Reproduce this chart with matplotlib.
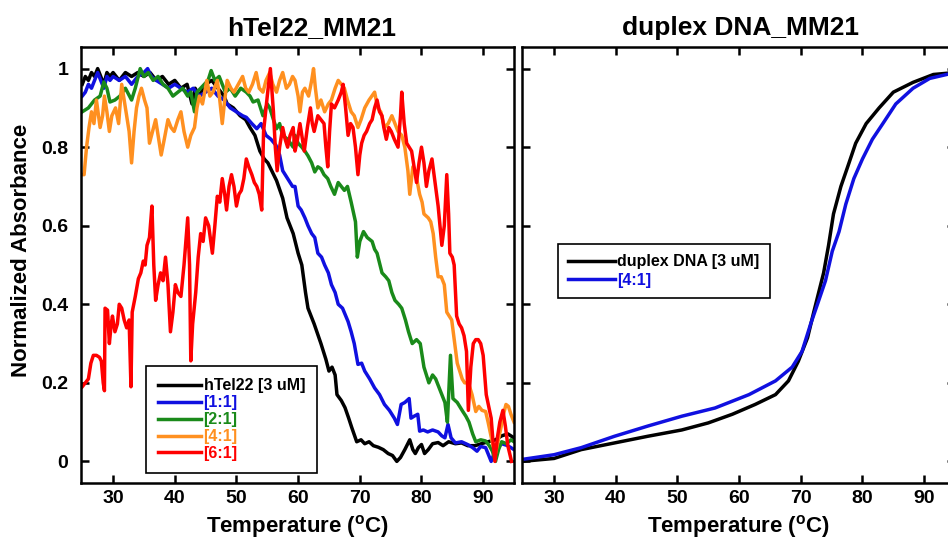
import matplotlib
matplotlib.use('Agg')
import matplotlib.pyplot as plt

plt.rcParams['font.family'] = ['Liberation Sans', 'DejaVu Sans']
plt.rcParams['font.weight'] = 'bold'
plt.rcParams['mathtext.fontset'] = 'custom'
plt.rcParams['mathtext.rm'] = 'Liberation Sans:bold'
plt.rcParams['mathtext.bf'] = 'Liberation Sans:bold'

# ---- hTel22_MM21 ----
htel_t = [25, 25.5, 26, 26.5, 27, 27.5, 28, 28.5, 29, 29.5, 30, 31, 32, 33, 34, 35, 36, 37, 38, 39,
          40, 41, 42, 42.8, 43.3, 44, 45, 46, 47, 48, 48.5, 49.5, 50.6, 51.5, 52.2, 53, 53.8, 54.5,
          55.1, 56.5, 57.5, 58.2, 59.2, 60, 60.6, 61.2, 61.6, 62.6, 63.7, 64.5, 65, 65.5, 66, 66.3,
          67, 67.6, 68.2, 68.7, 69.5, 70.2, 70.8, 71.5, 72.2, 73, 73.8, 74.6, 75.3, 76, 76.6, 77.3,
          78.1, 78.6, 79, 79.5, 80, 80.5, 81.1, 81.8, 82.7, 83.5, 84.4, 85.5, 86.5, 87.5, 88.7, 89.7,
          90.8, 92, 93, 94, 95]
htel_v = [0.96, 0.98, 0.97, 0.99, 0.98, 1.0, 0.98, 0.96, 0.99, 0.98, 0.99, 0.97, 0.99, 0.98, 0.99,
          0.98, 0.99, 0.97, 0.98, 0.96, 0.97, 0.95, 0.96, 0.91, 0.95, 0.93, 0.96, 0.97, 0.95, 0.93,
          0.91, 0.90, 0.88, 0.87, 0.85, 0.83, 0.79, 0.77, 0.76, 0.715, 0.67, 0.62, 0.58, 0.53, 0.50,
          0.43, 0.39, 0.35, 0.30, 0.26, 0.23, 0.24, 0.22, 0.17, 0.155, 0.137, 0.11, 0.086, 0.05,
          0.055, 0.045, 0.05, 0.04, 0.036, 0.03, 0.02, 0.015, 0.0, 0.01, 0.03, 0.055, 0.03, 0.02,
          0.035, 0.043, 0.02, 0.03, 0.045, 0.048, 0.04, 0.05, 0.045, 0.047, 0.04, 0.04, 0.045, 0.05,
          0.055, 0.065, 0.07, 0.06]

r11_t = [25, 25.5, 26, 26.5, 27, 27.5, 28, 28.5, 29, 29.5, 30, 31, 32, 33, 34, 35, 35.6, 36.2, 37,
         38, 39, 40, 41, 42, 43, 44, 45, 46, 47, 48, 49, 50, 51, 51.6, 52.5, 53.3, 54, 54.8, 55.6,
         56.4, 57, 57.5, 58.3, 59.1, 59.5, 60, 60.5, 61.1, 61.6, 62.2, 62.7, 63.2, 63.8, 64.3, 64.9,
         65.4, 66, 66.5, 67.2, 68.1, 68.6, 69.1, 69.7, 70.3, 70.8, 71.6, 72.4, 73.2, 74, 74.8, 75.6,
         76.1, 76.7, 77.3, 78, 78.3, 78.8, 79.4, 79.7, 80.3, 81, 81.8, 82.7, 83.3, 83.8, 84.3, 84.8,
         85.5, 86.5, 87.6, 88.3, 89, 89.6, 90.4, 91.3, 92, 93, 94, 95]
r11_v = [0.93, 0.94, 0.96, 0.95, 0.97, 0.99, 0.97, 0.95, 0.98, 0.97, 0.98, 0.97, 0.98, 0.96, 0.98,
         0.99, 1.0, 0.98, 0.97, 0.96, 0.95, 0.96, 0.95, 0.94, 0.95, 0.93, 0.94, 0.95, 0.93, 0.92,
         0.90, 0.89, 0.88, 0.876, 0.86, 0.847, 0.86, 0.83, 0.82, 0.805, 0.78, 0.74, 0.72, 0.70,
         0.70, 0.65, 0.64, 0.62, 0.60, 0.58, 0.57, 0.53, 0.52, 0.50, 0.48, 0.45, 0.43, 0.40, 0.39,
         0.356, 0.33, 0.30, 0.247, 0.25, 0.23, 0.21, 0.187, 0.17, 0.145, 0.13, 0.11, 0.094, 0.145,
         0.15, 0.16, 0.11, 0.115, 0.12, 0.077, 0.08, 0.075, 0.08, 0.075, 0.065, 0.06, 0.094, 0.06,
         0.047, 0.05, 0.042, 0.035, 0.026, 0.038, 0.035, 0.0, 0.03, 0.045, 0.04, 0.03]

r21_t = [25, 26, 27, 27.9, 28.5, 29, 29.5, 30.3, 31.1, 32, 33, 33.6, 34.4, 35, 35.7, 36.5, 37.3,
         38.1, 38.9, 39.7, 40.5, 41.3, 42.1, 42.6, 43.2, 43.6, 44.2, 44.8, 45.4, 45.9, 46.5, 47.2,
         48.2, 49, 49.8, 50.7, 51.6, 52.2, 52.7, 53.5, 54.3, 55, 55.4, 56, 56.5, 57, 57.5, 58.3,
         59.2, 59.5, 60, 60.6, 61.1, 61.6, 62.2, 62.7, 63.2, 63.7, 64.2, 64.8, 65.3, 65.9, 66.5,
         67, 67.5, 68, 68.6, 69.3, 69.6, 70, 70.6, 71.2, 72, 72.4, 72.8, 73.6, 74.2, 74.7, 75.2,
         75.7, 76.3, 76.8, 77.4, 77.9, 78.5, 79.2, 79.8, 80.4, 81.2, 81.8, 82.3, 82.8, 83.3, 83.8,
         84.2, 84.7, 85.1, 85.8, 86.7, 87.2, 87.7, 88.3, 88.8, 89.6, 90.4, 91, 91.5, 92, 92.5, 93,
         93.8, 94.5, 95]
r21_v = [0.89, 0.90, 0.92, 0.93, 0.966, 0.95, 0.915, 0.92, 0.93, 0.95, 0.92, 0.95, 1.0, 0.98,
         0.99, 0.97, 0.98, 0.96, 0.95, 0.93, 0.94, 0.95, 0.93, 0.94, 0.89, 0.94, 0.95, 0.96, 0.97,
         0.995, 0.97, 0.98, 0.94, 0.95, 0.93, 0.95, 0.94, 0.93, 0.915, 0.92, 0.88, 0.91, 0.90,
         0.87, 0.847, 0.86, 0.83, 0.82, 0.80, 0.83, 0.81, 0.80, 0.79, 0.778, 0.76, 0.737, 0.75,
         0.745, 0.73, 0.72, 0.70, 0.68, 0.71, 0.70, 0.69, 0.70, 0.66, 0.61, 0.52, 0.56, 0.585,
         0.57, 0.56, 0.54, 0.53, 0.48, 0.47, 0.46, 0.43, 0.41, 0.40, 0.39, 0.36, 0.33, 0.30, 0.31,
         0.30, 0.24, 0.20, 0.22, 0.21, 0.19, 0.17, 0.15, 0.10, 0.27, 0.16, 0.15, 0.127, 0.115,
         0.10, 0.07, 0.05, 0.055, 0.052, 0.04, 0.026, 0.0, 0.03, 0.05, 0.045, 0.055, 0.05]

r41_t = [25, 25.3, 25.7, 26.1, 26.5, 26.9, 27.3, 27.9, 28.3, 28.6, 29, 29.4, 29.8, 30.4, 30.9,
         31.4, 31.8, 32.2, 32.6, 33, 33.4, 33.8, 34.2, 34.6, 35.1, 35.5, 35.9, 36.4, 36.9, 37.4,
         37.8, 38.3, 38.9, 39.4, 39.9, 40.5, 41, 41.5, 42.1, 42.6, 43.2, 43.6, 44, 44.5, 45.2,
         45.7, 46.2, 46.9, 47.3, 47.7, 48.1, 48.5, 49.1, 49.6, 50.3, 51, 51.5, 52, 52.6, 53.2,
         53.7, 54.3, 54.8, 55.4, 55.9, 56.5, 57, 57.5, 58.1, 58.6, 59.1, 59.5, 60, 60.3, 60.7,
         61.1, 61.7, 62.2, 62.5, 62.8, 63.2, 63.7, 64.3, 64.9, 65.4, 66, 66.5, 67, 67.5, 68, 68.6,
         69.1, 69.7, 70.2, 70.8, 71.5, 72.4, 72.9, 73.4, 74, 74.6, 75.2, 75.7, 76.2, 76.8, 77.3,
         77.8, 78.1, 78.6, 79.1, 79.7, 80.1, 80.4, 81.1, 81.5, 81.9, 82.3, 82.7, 83.2, 83.7, 84.1,
         84.5, 84.9, 85.4, 85.8, 86.2, 86.6, 87, 87.6, 88.2, 88.8, 89.3, 89.8, 90.4, 90.8, 91.2,
         91.6, 92, 92.4, 92.9, 93.3, 93.7, 94.1, 94.5, 95]
r41_v = [0.73, 0.73, 0.80, 0.85, 0.89, 0.86, 0.92, 0.85, 0.88, 0.93, 0.89, 0.84, 0.88, 0.90, 0.86,
         0.96, 0.92, 0.88, 0.84, 0.76, 0.84, 0.90, 0.93, 0.95, 0.92, 0.90, 0.81, 0.84, 0.87, 0.82,
         0.78, 0.82, 0.87, 0.85, 0.84, 0.87, 0.89, 0.84, 0.80, 0.83, 0.85, 0.90, 0.93, 0.91, 0.97,
         0.93, 0.94, 0.97, 0.92, 0.86, 0.92, 0.97, 0.95, 0.94, 0.96, 0.98, 0.95, 0.94, 0.96, 0.99,
         0.95, 0.94, 0.97, 0.99, 0.96, 0.94, 0.97, 0.99, 0.95, 0.96, 0.98, 0.97, 0.93, 0.89, 0.94,
         0.95, 0.93, 0.97, 1.0, 0.95, 0.90, 0.92, 0.89, 0.91, 0.92, 0.95, 0.97, 0.96, 0.95, 0.92,
         0.89, 0.88, 0.85, 0.87, 0.90, 0.92, 0.94, 0.90, 0.89, 0.85, 0.86, 0.88, 0.86, 0.84, 0.83,
         0.80, 0.74, 0.68, 0.75, 0.73, 0.68, 0.66, 0.63, 0.62, 0.61, 0.58, 0.52, 0.47, 0.47, 0.45,
         0.38, 0.37, 0.36, 0.30, 0.25, 0.23, 0.21, 0.20, 0.20, 0.17, 0.127, 0.14, 0.13, 0.127,
         0.10, 0.07, 0.04, 0.02, 0.05, 0.087, 0.12, 0.145, 0.14, 0.12, 0.10]

r61_t = [25, 25.5, 26, 26.4, 26.8, 27.3, 27.8, 28.1, 28.4, 28.6, 28.7, 29.1, 29.4, 29.7, 29.9,
         30.3, 30.7, 31, 31.4, 31.8, 32.2, 32.6, 32.9, 33.1, 33.6, 34.1, 34.5, 34.9, 35.2, 35.5,
         35.9, 36.3, 36.6, 36.9, 37.3, 37.7, 38.1, 38.5, 38.9, 39.3, 39.7, 40.1, 40.5, 41, 41.5,
         42.1, 42.4, 42.6, 42.9, 43.4, 43.8, 44.2, 44.6, 45, 45.5, 46.1, 46.5, 46.9, 47.3, 47.7,
         48.1, 48.4, 48.8, 49.2, 49.6, 50, 50.4, 50.8, 51.2, 51.6, 52, 52.5, 52.9, 53.3, 53.7,
         54.1, 54.4, 55, 55.5, 56, 56.3, 56.6, 57, 57.5, 57.9, 58.3, 58.7, 59.2, 59.5, 59.9, 60.3,
         60.7, 61, 61.5, 62, 62.3, 62.6, 63.2, 63.7, 64.2, 64.5, 64.8, 65.1, 65.4, 65.9, 66.5, 67,
         67.3, 67.7, 68.1, 68.5, 68.9, 69.3, 69.7, 70, 70.3, 70.7, 71.1, 71.6, 72, 72.4, 72.8,
         73.2, 73.6, 73.9, 74.3, 74.7, 75.1, 75.6, 76.2, 76.6, 76.8, 77.2, 77.6, 78, 78.4, 78.8,
         79.2, 79.6, 80, 80.4, 80.8, 81.2, 81.7, 82.2, 82.7, 83, 83.3, 83.7, 84.1, 84.4, 84.6, 85,
         85.3, 85.7, 86.1, 86.5, 86.9, 87.3, 87.6, 88, 88.4, 88.8, 89.2, 89.6, 90, 90.5, 90.9,
         91.3, 91.6, 91.9, 92.3, 92.7, 93.2, 93.6, 94, 94.3, 94.6]
r61_v = [0.19, 0.20, 0.21, 0.25, 0.27, 0.27, 0.265, 0.255, 0.20, 0.18, 0.39, 0.385, 0.30, 0.35,
         0.37, 0.33, 0.35, 0.40, 0.39, 0.36, 0.34, 0.36, 0.19, 0.38, 0.42, 0.465, 0.48, 0.51, 0.50,
         0.55, 0.57, 0.65, 0.50, 0.41, 0.45, 0.48, 0.46, 0.52, 0.45, 0.33, 0.38, 0.45, 0.43, 0.42,
         0.50, 0.62, 0.50, 0.256, 0.35, 0.43, 0.52, 0.58, 0.56, 0.62, 0.60, 0.53, 0.60, 0.675, 0.66,
         0.72, 0.68, 0.64, 0.70, 0.73, 0.70, 0.65, 0.68, 0.69, 0.72, 0.77, 0.75, 0.73, 0.71, 0.70,
         0.68, 0.64, 0.84, 0.93, 1.0, 0.89, 0.80, 0.74, 0.80, 0.85, 0.82, 0.80, 0.83, 0.85, 0.79,
         0.82, 0.86, 0.82, 0.79, 0.85, 0.90, 0.86, 0.84, 0.88, 0.87, 0.86, 0.80, 0.75, 0.84, 0.91,
         0.90, 0.92, 0.94, 0.96, 0.90, 0.83, 0.86, 0.85, 0.80, 0.73, 0.78, 0.81, 0.83, 0.84, 0.86,
         0.87, 0.90, 0.92, 0.89, 0.88, 0.85, 0.82, 0.85, 0.84, 0.82, 0.80, 0.88, 0.94, 0.86, 0.81,
         0.80, 0.79, 0.75, 0.71, 0.76, 0.80, 0.76, 0.70, 0.74, 0.77, 0.71, 0.65, 0.60, 0.55, 0.60,
         0.73, 0.63, 0.53, 0.52, 0.50, 0.37, 0.35, 0.34, 0.32, 0.28, 0.13, 0.24, 0.30, 0.31, 0.31,
         0.30, 0.27, 0.17, 0.14, 0.11, 0.05, 0.0, 0.06, 0.10, 0.13, 0.09, 0.04, 0.02, 0.0]

# ---- duplex DNA_MM21 ----
dup_t = [24.8, 30, 34.4, 39.8, 45.2, 50.7, 55, 58.9, 62.6, 65.9, 68, 69.6, 71.1, 72.1, 72.9, 73.7,
         74.5, 75.3, 76.5, 77.6, 78.9, 80.6, 82.7, 85, 88.2, 91.5, 95]
dup_v = [0.0, 0.0075, 0.03, 0.047, 0.064, 0.08, 0.098, 0.12, 0.145, 0.17, 0.205, 0.255, 0.315,
         0.38, 0.43, 0.48, 0.55, 0.63, 0.70, 0.75, 0.81, 0.86, 0.90, 0.94, 0.965, 0.985, 0.99]
dup41_t = [24.8, 30, 34.4, 39.8, 45.2, 50.7, 56.1, 61.6, 65.9, 68.6, 70.2, 71.6, 72.7, 74, 75.1,
           76.2, 77.3, 78.6, 80, 81.6, 83.3, 85.4, 88.2, 90.9, 95]
dup41_v = [0.005, 0.017, 0.035, 0.064, 0.09, 0.115, 0.136, 0.17, 0.205, 0.24, 0.28, 0.35, 0.40,
           0.46, 0.535, 0.585, 0.655, 0.72, 0.77, 0.82, 0.86, 0.91, 0.95, 0.975, 0.99]

left_labels = ['hTel22 [3 uM]', '[1:1]', '[2:1]', '[4:1]', '[6:1]']
left_colors = ['black', '#1010e0', '#1a8a1a', '#ff9020', '#ff0000']
right_labels = ['duplex DNA [3 uM]', '[4:1]']
right_colors = ['black', '#1010e0']

yticks = [0, 0.2, 0.4, 0.6, 0.8, 1]
ytick_labels = ['0', '0.2', '0.4', '0.6', '0.8', '1']
xticks = [30, 40, 50, 60, 70, 80, 90]

fig = plt.figure(figsize=(9.48, 5.42), dpi=100)
ax1 = fig.add_axes([81/948, 1-483/542, 433/948, 436/542])
ax2 = fig.add_axes([522/948, 1-483/542, 433/948, 436/542])

lw = 2.5
for (t, v), lab, c in zip([(htel_t, htel_v), (r11_t, r11_v), (r21_t, r21_v), (r41_t, r41_v), (r61_t, r61_v)],
                          left_labels, left_colors):
    ax1.plot(t, v, color=c, lw=lw, label=lab)
for (t, v), lab, c in zip([(dup_t, dup_v), (dup41_t, dup41_v)], right_labels, right_colors):
    ax2.plot(t, v, color=c, lw=lw, label=lab)

for ax in (ax1, ax2):
    ax.set_xlim(24.8, 95)
    ax.set_ylim(-0.055, 1.055)
    ax.set_xticks(xticks)
    ax.set_yticks(yticks)
    ax.tick_params(direction='in', length=6, width=1.8, top=True, right=True, labelsize=14, pad=5)
    ax.tick_params(axis='y', pad=9)
    for s in ax.spines.values():
        s.set_linewidth(1.8)
    for lbl in ax.get_xticklabels() + ax.get_yticklabels():
        lbl.set_fontweight('bold')
    ax.set_xlabel(r'Temperature ($^{\mathregular{o}}$C)', fontsize=16, fontweight='bold', labelpad=4)

ax1.set_yticklabels(ytick_labels)
ax2.set_yticklabels([])
fig.text(22/948, 1-250/542, 'Normalized Absorbance', rotation=90, ha='center', va='center',
         fontsize=16, fontweight='bold')

fig.text(312/948, 1-28/542, 'hTel22_MM21', ha='center', va='center', fontsize=19, fontweight='bold')
fig.text(741/948, 1-28/542, 'duplex DNA_MM21', ha='center', va='center', fontsize=19, fontweight='bold')

leg1 = ax1.legend(loc='lower left', bbox_to_anchor=(146/948, 1-473/542), bbox_transform=fig.transFigure,
                  borderaxespad=0, fancybox=False, framealpha=1, edgecolor='black', handlelength=2.7,
                  handletextpad=0.15, labelspacing=0.12, borderpad=0.75,
                  prop={'size': 11.5, 'weight': 'bold'})
leg1.get_frame().set_linewidth(1.2)
for txt, c in zip(leg1.get_texts(), left_colors):
    txt.set_color(c)

leg2 = ax2.legend(loc='upper left', bbox_to_anchor=(558/948, 1-244/542), bbox_transform=fig.transFigure,
                  borderaxespad=0, fancybox=False, framealpha=1, edgecolor='black', handlelength=2.9,
                  handletextpad=0.15, labelspacing=0.2, borderpad=0.65,
                  prop={'size': 11.5, 'weight': 'bold'})
leg2.get_frame().set_linewidth(1.2)
for txt, c in zip(leg2.get_texts(), right_colors):
    txt.set_color(c)

plt.savefig('out.png', dpi=100)
